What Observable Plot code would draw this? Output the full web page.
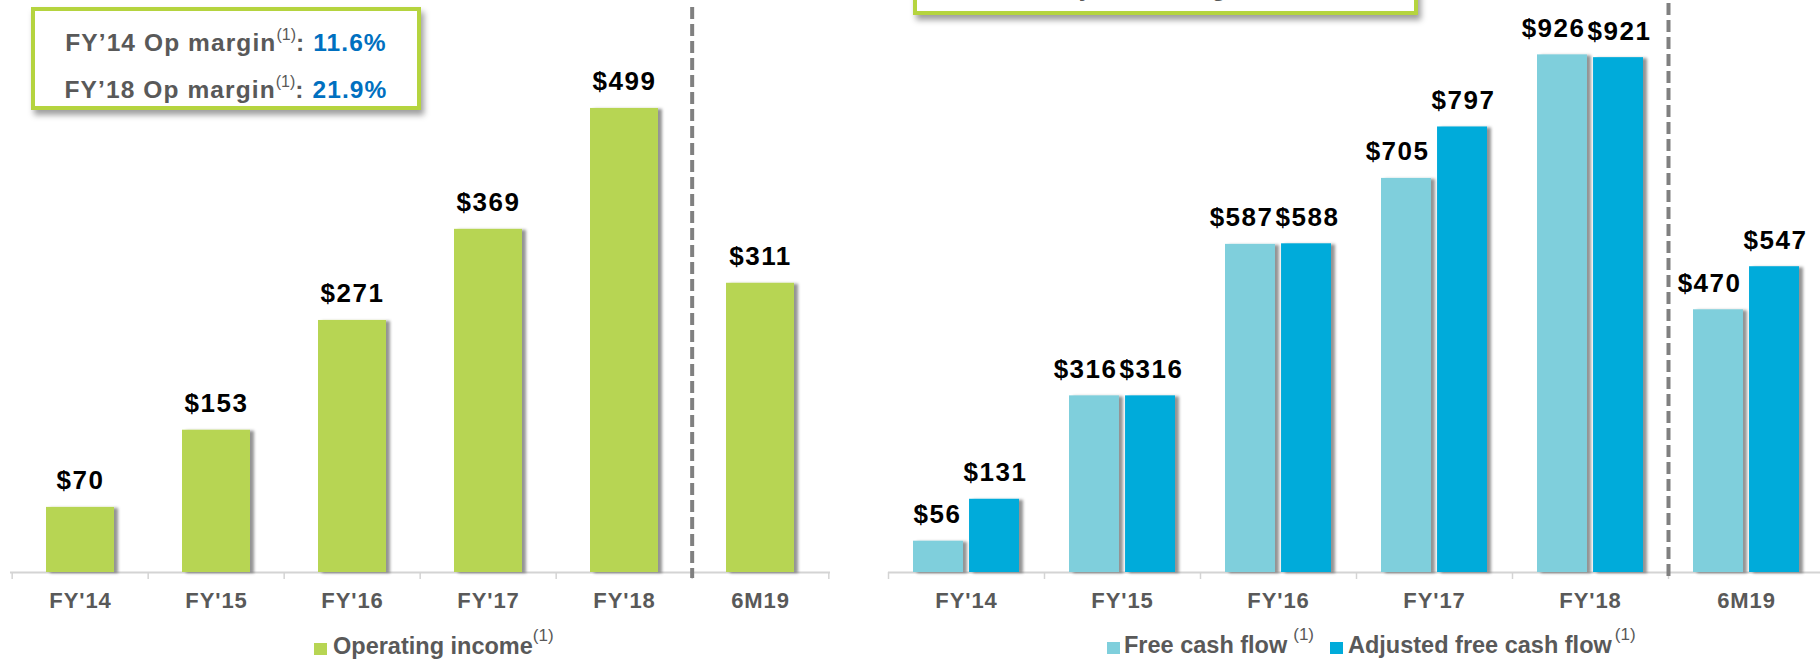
<!DOCTYPE html>
<html>
<head>
<meta charset="utf-8">
<script src="https://cdn.jsdelivr.net/npm/d3@7"></script>
<script src="https://cdn.jsdelivr.net/npm/@observablehq/plot@0.6"></script>
<style>
  html, body { margin: 0; padding: 0; background: #fff; }
  #root { position: relative; width: 1820px; height: 660px; overflow: hidden; background: #fff;
          font-family: "Liberation Sans", Arial, Helvetica, sans-serif; }
  .panel { position: absolute; top: 0; }
  .panel svg { max-width: none; display: block; }
  .panel g[aria-label="bar"] { filter: url(#barShadow); }
  .panel g[aria-label="text"] text { letter-spacing: 1.5px; }
  .panel g[aria-label="x-axis tick label"] text { letter-spacing: 0.9px; }
  .box { position: absolute; box-sizing: border-box; height: 103px; border: 4px solid #b5d43f;
         background: #fff; box-shadow: 3px 5px 6px rgba(0,0,0,0.38); }
  .box .line { position: absolute; left: 0; right: 0; text-align: center; white-space: nowrap;
               font-size: 24.5px; line-height: 1; font-weight: bold; color: #595959; letter-spacing: 1.1px; }
  .box .val { color: #0070c0; }
  .sup { font-size: 16px; font-weight: normal; position: relative; top: -11px; letter-spacing: 0; }
  .legend-text { position: absolute; white-space: nowrap; font-size: 23.5px; line-height: 1;
                 font-weight: bold; color: #595959; }
  .legend-text .sup { top: -13px; font-size: 17px; }
  .swatch { position: absolute; width: 13px; height: 12px; }
</style>
</head>
<body>
<svg width="0" height="0" style="position:absolute">
  <defs>
    <filter id="barShadow" x="-10%" y="-10%" width="120%" height="120%">
      <feDropShadow dx="4" dy="1" stdDeviation="1.6" flood-color="#000" flood-opacity="0.42"/>
    </filter>
  </defs>
</svg>
<div id="root">
  <div class="panel" id="left" style="left:0px;width:880px;"></div>
  <div class="panel" id="right" style="left:880px;width:940px;"></div>

  <div class="box" style="left:31px;top:7px;width:390px;">
    <div class="line" style="top:20px;">FY’14 Op margin<span class="sup">(1)</span>: <span class="val">11.6%</span></div>
    <div class="line" style="top:67px;">FY’18 Op margin<span class="sup">(1)</span>: <span class="val">21.9%</span></div>
  </div>
  <div class="box" style="left:913px;top:-88px;width:505px;">
    <div class="line" style="top:60px;">FY’18 Adj. FCF margin<span class="sup">(1)</span>: <span class="val">40.4%</span></div>
  </div>

  <div class="swatch" style="left:314px;top:643px;background:#b7d553;"></div>
  <div class="legend-text" style="left:333px;top:635px;">Operating income<span class="sup">(1)</span></div>

  <div class="swatch" style="left:1107px;top:642px;background:#7fcfdc;"></div>
  <div class="legend-text" style="left:1124px;top:634px;">Free cash flow<span class="sup" style="margin-left:6px;">(1)</span></div>
  <div class="swatch" style="left:1330px;top:642px;background:#00abda;"></div>
  <div class="legend-text" style="left:1348px;top:634px;">Adjusted free cash flow<span class="sup" style="margin-left:3px;">(1)</span></div>
</div>
<script>
// ---- Data (values in $ millions) ----
const categories = ["FY'14", "FY'15", "FY'16", "FY'17", "FY'18", "6M19"];
const operatingIncome = [70, 153, 271, 369, 499, 311];
const freeCashFlow = [56, 316, 587, 705, 926, 470];
const adjustedFreeCashFlow = [131, 316, 588, 797, 921, 547];
const separatorBefore = "6M19";

// ---- Styles ----
const FONT = '"Liberation Sans", Arial, Helvetica, sans-serif';
const green = "#b7d553";
const lightBlue = "#7fcfdc";
const darkBlue = "#00abda";
const axisColor = "#d4d4d4";
const dashColor = "#808080";
const labelGray = "#595959";

const opData = categories.map((c, i) => ({category: c, value: operatingIncome[i]}));
const cfData = categories.map((c, i) => ({category: c, fcf: freeCashFlow[i], adj: adjustedFreeCashFlow[i]}));
const last = categories[categories.length - 1];

function axisMarks(step) {
  return [
    Plot.ruleY([0], {stroke: axisColor, strokeWidth: 2}),
    Plot.ruleX(categories, {x: d => d, dx: -step / 2, y1: 0, y2: 0, insetBottom: -7, stroke: axisColor, strokeWidth: 1.5}),
    Plot.ruleX([last], {x: d => d, dx: step / 2, y1: 0, y2: 0, insetBottom: -7, stroke: axisColor, strokeWidth: 1.5}),
  ];
}
function sepMark(step) {
  return Plot.ruleX([separatorBefore], {x: d => d, dx: -step / 2, insetBottom: -6,
    stroke: dashColor, strokeWidth: 4, strokeDasharray: "12,5"});
}
function xAxis() {
  return Plot.axisX({label: null, tickSize: 0, tickPadding: 20, fontSize: 22, fontWeight: "bold", fill: labelGray, color: labelGray});
}
const valueText = {lineAnchor: "bottom", dy: -18, fontSize: 26, fontWeight: "bold", fill: "#000"};

// ---- Left panel: operating income ----
const xRangeL = [10, 830], padInL = 0.5, padOutL = 0.25;
const stepL = (xRangeL[1] - xRangeL[0]) / (categories.length - padInL + 2 * padOutL);
const left = Plot.plot({
  width: 880, height: 620,
  marginTop: 7, marginLeft: 10, marginRight: 50, marginBottom: 48,
  style: {fontFamily: FONT, background: "transparent"},
  x: {domain: categories, range: xRangeL, paddingInner: padInL, paddingOuter: padOutL, axis: null},
  y: {domain: [0, 500], range: [572, 107], axis: null},
  marks: [
    ...axisMarks(stepL),
    Plot.barY(opData, {x: "category", y: "value", fill: green}),
    sepMark(stepL),
    Plot.text(opData, {x: "category", y: "value", text: d => "$" + d.value, ...valueText}),
    xAxis()
  ]
});
document.getElementById("left").append(left);

// ---- Right panel: free cash flow vs adjusted free cash flow ----
const xRangeR = [8, 944], padInR = 0.32, padOutR = 0.16;
const stepR = (xRangeR[1] - xRangeR[0]) / (categories.length - padInR + 2 * padOutR);
const bandR = stepR * (1 - padInR);
const gapR = 6;
const barW = (bandR - gapR) / 2;
const right = Plot.plot({
  width: 940, height: 620,
  marginTop: 3, marginLeft: 8, marginRight: 0, marginBottom: 48,
  style: {fontFamily: FONT, background: "transparent", overflow: "visible"},
  x: {domain: categories, range: xRangeR, paddingInner: padInR, paddingOuter: padOutR, axis: null},
  y: {domain: [0, 1000], range: [572, 13], axis: null},
  marks: [
    ...axisMarks(stepR),
    Plot.barY(cfData, {x: "category", y: "fcf", fill: lightBlue, insetRight: bandR - barW}),
    Plot.barY(cfData, {x: "category", y: "adj", fill: darkBlue, insetLeft: bandR - barW}),
    sepMark(stepR),
    // free-cash-flow labels end at the right edge of their bar, adjusted labels are centred
    Plot.text(cfData, {x: "category", y: "fcf", text: d => "$" + d.fcf, textAnchor: "end",
      dx: -(bandR - barW) / 2 + barW / 2 - 2, ...valueText}),
    Plot.text(cfData, {x: "category", y: "adj", text: d => "$" + d.adj, dx: (bandR - barW) / 2 + 1, ...valueText}),
    xAxis()
  ]
});
document.getElementById("right").append(right);
</script>
</body>
</html>
